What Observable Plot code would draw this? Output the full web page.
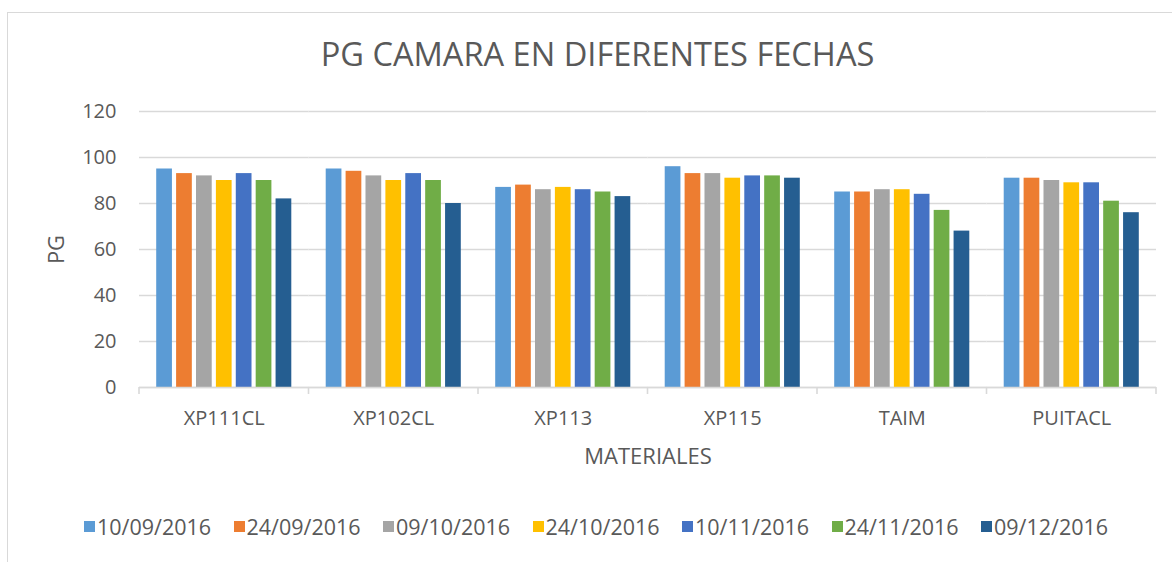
<!DOCTYPE html>
<html>
<head>
<meta charset="utf-8">
<script src="https://cdn.jsdelivr.net/npm/d3@7"></script>
<script src="https://cdn.jsdelivr.net/npm/@observablehq/plot@0.6"></script>
<style>
  body { margin: 0; background: #fff; }
  #chart { position: relative; width: 1172px; height: 562px; overflow: hidden; font-family: "Open Sans", sans-serif; color: #595959; background: #fff; }
  #border { position: absolute; left: 7px; top: 12px; width: 1300px; height: 700px; border-left: 1.5px solid #d9d9d9; border-top: 1.5px solid #d9d9d9; }
  #title { position: absolute; left: 0; top: 38px; width: 1195px; text-align: center; font-size: 32.6px; line-height: 32px; color: #595959; white-space: nowrap; }
  #plot { position: absolute; left: 0; top: 90px; }
  #legend { position: absolute; left: 84px; top: 512px; }
  #legend > div { display: flex !important; flex-wrap: nowrap !important; align-items: center !important; margin: 0 !important; min-height: 0 !important; }
  #legend div, #legend span { font-family: "Open Sans", sans-serif !important; font-size: 21.5px !important; color: #595959 !important; }
  #legend span { margin: 0 !important; width: 149.5px; display: inline-flex !important; align-items: center; white-space: nowrap; }
  #legend span > svg { margin-right: 2px !important; flex-shrink: 0; }
</style>
</head>
<body>
<div id="chart">
  <div id="border"></div>
  <div id="title">PG CAMARA EN DIFERENTES FECHAS</div>
  <div id="plot"></div>
  <div id="legend"></div>
</div>
<script>
// Categories (materials) and series (dates)
const materials = ["XP111CL", "XP102CL", "XP113", "XP115", "TAIM", "PUITACL"];
const dates = ["10/09/2016", "24/09/2016", "09/10/2016", "24/10/2016", "10/11/2016", "24/11/2016", "09/12/2016"];
const colors = ["#5b9bd5", "#ed7d31", "#a5a5a5", "#ffc000", "#4472c4", "#70ad47", "#255e91"];

// Series values, one per date, in material order
const s_10_09 = [95, 95, 87, 96, 85, 91];
const s_24_09 = [93, 94, 88, 93, 85, 91];
const s_09_10 = [92, 92, 86, 93, 86, 90];
const s_24_10 = [90, 90, 87, 91, 86, 89];
const s_10_11 = [93, 93, 86, 92, 84, 89];
const s_24_11 = [90, 90, 85, 92, 77, 81];
const s_09_12 = [82, 80, 83, 91, 68, 76];

const yTicks = [0, 20, 40, 60, 80, 100, 120];

const series = [s_10_09, s_24_09, s_09_10, s_24_10, s_10_11, s_24_11, s_09_12];
const data = [];
materials.forEach((m, i) => {
  dates.forEach((d, j) => data.push({material: m, date: d, value: series[j][i]}));
});

const plot = Plot.plot({
  width: 1172,
  height: 410,
  marginTop: 21,
  marginBottom: 113,
  marginLeft: 139,
  marginRight: 16,
  style: {fontFamily: "Open Sans, sans-serif", color: "#595959", background: "transparent", overflow: "visible"},
  fx: {domain: materials, padding: 0, round: false},
  x: {domain: dates, paddingInner: 0.21, paddingOuter: 0.865, round: false, axis: null},
  y: {domain: [0, 120]},
  color: {domain: dates, range: colors},
  marks: [
    Plot.gridY(yTicks, {stroke: "#d9d9d9", strokeOpacity: 1, strokeWidth: 1.3}),
    Plot.barY(data, {fx: "material", x: "date", y: "value", fill: "date"}),
    Plot.ruleY([0], {stroke: "#d9d9d9", strokeWidth: 1.6}),
    Plot.axisY(yTicks, {tickSize: 0, tickPadding: 23, fontSize: 20, fill: "#595959",
      label: "PG", labelAnchor: "center", labelOffset: 91, labelArrow: "none"}),
    Plot.axisFx({anchor: "bottom", tickSize: 0, tickPadding: 23, fontSize: 20, fill: "#595959",
      label: "MATERIALES", labelAnchor: "center", labelOffset: 76, labelArrow: "none"})
  ]
});

document.getElementById("plot").appendChild(plot);

// Enlarge axis titles
d3.select(plot).selectAll('g[aria-label="fx-axis label"] text, g[aria-label="y-axis label"] text')
  .attr("font-size", 22);

// Category separator ticks at band boundaries of the fx scale
const fx = plot.scale("fx");
const y = plot.scale("y");
const y0 = y.apply(0);
const bounds = fx.domain.map(d => fx.apply(d));
bounds.push(fx.apply(fx.domain[fx.domain.length - 1]) + fx.bandwidth);
d3.select(plot).append("g")
  .attr("stroke", "#d9d9d9").attr("stroke-width", 1.6)
  .selectAll("line").data(bounds).join("line")
  .attr("x1", d => d).attr("x2", d => d)
  .attr("y1", y0).attr("y2", y0 + 7);

// Legend from the plot's color scale
const legend = plot.legend("color", {swatchSize: 11, className: "lg"});
document.getElementById("legend").appendChild(legend);
</script>
</body>
</html>
